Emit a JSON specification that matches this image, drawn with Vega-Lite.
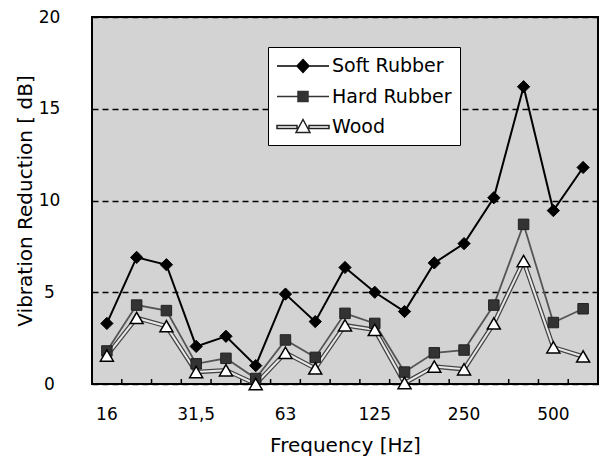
{
  "$schema": "https://vega.github.io/schema/vega-lite/v6.json",
  "width": 506,
  "height": 367,
  "autosize": "none",
  "padding": {"left": 92, "top": 17, "right": 1, "bottom": 77},
  "background": "white",
  "config": {
    "font": "DejaVu Sans",
    "view": {"fill": "#d3d3d3", "stroke": "black", "strokeWidth": 2},
    "axis": {"labelFont": "DejaVu Sans", "titleFont": "DejaVu Sans", "labelColor": "black", "titleColor": "black", "titleFontWeight": "normal", "labelFontSize": 17, "titleFontSize": 20, "domain": false}
  },
  "data": {"values": [
    {"series": "Soft Rubber", "freq": "16", "value": 3.3},
    {"series": "Soft Rubber", "freq": "20", "value": 6.9},
    {"series": "Soft Rubber", "freq": "25", "value": 6.5},
    {"series": "Soft Rubber", "freq": "31.5", "value": 2.05},
    {"series": "Soft Rubber", "freq": "40", "value": 2.6},
    {"series": "Soft Rubber", "freq": "50", "value": 1.0},
    {"series": "Soft Rubber", "freq": "63", "value": 4.9},
    {"series": "Soft Rubber", "freq": "80", "value": 3.4},
    {"series": "Soft Rubber", "freq": "100", "value": 6.35},
    {"series": "Soft Rubber", "freq": "125", "value": 5.0},
    {"series": "Soft Rubber", "freq": "160", "value": 3.95},
    {"series": "Soft Rubber", "freq": "200", "value": 6.6},
    {"series": "Soft Rubber", "freq": "250", "value": 7.65},
    {"series": "Soft Rubber", "freq": "315", "value": 10.15},
    {"series": "Soft Rubber", "freq": "400", "value": 16.2},
    {"series": "Soft Rubber", "freq": "500", "value": 9.45},
    {"series": "Soft Rubber", "freq": "630", "value": 11.8},
    {"series": "Hard Rubber", "freq": "16", "value": 1.8},
    {"series": "Hard Rubber", "freq": "20", "value": 4.3},
    {"series": "Hard Rubber", "freq": "25", "value": 4.0},
    {"series": "Hard Rubber", "freq": "31.5", "value": 1.1},
    {"series": "Hard Rubber", "freq": "40", "value": 1.4},
    {"series": "Hard Rubber", "freq": "50", "value": 0.3},
    {"series": "Hard Rubber", "freq": "63", "value": 2.4},
    {"series": "Hard Rubber", "freq": "80", "value": 1.45},
    {"series": "Hard Rubber", "freq": "100", "value": 3.85},
    {"series": "Hard Rubber", "freq": "125", "value": 3.3},
    {"series": "Hard Rubber", "freq": "160", "value": 0.65},
    {"series": "Hard Rubber", "freq": "200", "value": 1.7},
    {"series": "Hard Rubber", "freq": "250", "value": 1.85},
    {"series": "Hard Rubber", "freq": "315", "value": 4.3},
    {"series": "Hard Rubber", "freq": "400", "value": 8.7},
    {"series": "Hard Rubber", "freq": "500", "value": 3.35},
    {"series": "Hard Rubber", "freq": "630", "value": 4.1},
    {"series": "Wood", "freq": "16", "value": 1.55},
    {"series": "Wood", "freq": "20", "value": 3.6},
    {"series": "Wood", "freq": "25", "value": 3.15},
    {"series": "Wood", "freq": "31.5", "value": 0.65},
    {"series": "Wood", "freq": "40", "value": 0.75},
    {"series": "Wood", "freq": "50", "value": 0.0},
    {"series": "Wood", "freq": "63", "value": 1.7},
    {"series": "Wood", "freq": "80", "value": 0.85},
    {"series": "Wood", "freq": "100", "value": 3.2},
    {"series": "Wood", "freq": "125", "value": 2.95},
    {"series": "Wood", "freq": "160", "value": 0.05},
    {"series": "Wood", "freq": "200", "value": 0.95},
    {"series": "Wood", "freq": "250", "value": 0.8},
    {"series": "Wood", "freq": "315", "value": 3.3},
    {"series": "Wood", "freq": "400", "value": 6.7},
    {"series": "Wood", "freq": "500", "value": 2.0},
    {"series": "Wood", "freq": "630", "value": 1.5}
  ]},
  "encoding": {
    "x": {
      "field": "freq", "type": "nominal",
      "scale": {"type": "band", "domain": ["16","20","25","31.5","40","50","63","80","100","125","160","200","250","315","400","500","630"], "paddingInner": 0, "paddingOuter": 0},
      "axis": {
        "title": "Frequency [Hz]", "labelAngle": 0, "ticks": false,
        "labelPadding": 22, "titlePadding": 13,
        "labelExpr": "datum.value == '31.5' ? '31,5' : ((datum.value == '16' || datum.value == '63' || datum.value == '125' || datum.value == '250' || datum.value == '500') ? datum.value : '')"
      }
    },
    "y": {
      "field": "value", "type": "quantitative",
      "scale": {"domain": [0, 20], "nice": false},
      "axis": {
        "title": "Vibration Reduction [ dB]", "values": [0, 5, 10, 15, 20],
        "grid": true, "gridColor": "black", "gridDash": [6, 4], "gridWidth": 1.5, "gridOpacity": 1,
        "ticks": false, "labelAlign": "center", "labelPadding": 43, "titlePadding": 3
      }
    }
  },
  "layer": [
    {"transform": [{"filter": "datum.series == 'Soft Rubber' && datum.freq != '16'"}], "mark": {"type": "rule", "stroke": "black", "strokeWidth": 1.5},
      "encoding": {"x": {"field": "freq", "type": "nominal", "bandPosition": 0}, "y": {"datum": 0}, "y2": {"datum": 0.27}}},
    {"transform": [{"filter": "datum.series == 'Wood'"}], "mark": {"type": "line", "stroke": "#444444", "strokeWidth": 4.5}, "encoding": {}},
    {"transform": [{"filter": "datum.series == 'Wood'"}], "mark": {"type": "line", "stroke": "#e8e8e8", "strokeWidth": 2}, "encoding": {}},
    {"transform": [{"filter": "datum.series == 'Hard Rubber'"}], "mark": {"type": "line", "stroke": "#555555", "strokeWidth": 1.8}, "encoding": {}},
    {"transform": [{"filter": "datum.series == 'Soft Rubber'"}], "mark": {"type": "line", "stroke": "black", "strokeWidth": 2}, "encoding": {}},
    {"transform": [{"filter": "datum.series == 'Soft Rubber'"}], "mark": {"type": "point", "shape": "diamond", "filled": true, "fill": "black", "stroke": "black", "strokeWidth": 1, "size": 150, "opacity": 1}, "encoding": {}},
    {"transform": [{"filter": "datum.series == 'Hard Rubber'"}], "mark": {"type": "point", "shape": "square", "filled": true, "fill": "#333333", "stroke": "#222222", "strokeWidth": 1, "size": 110, "opacity": 1}, "encoding": {}},
    {"transform": [{"filter": "datum.series == 'Wood'"}], "mark": {"type": "point", "shape": "triangle-up", "filled": true, "fill": "white", "stroke": "black", "strokeWidth": 1.5, "size": 170, "opacity": 1}, "encoding": {}},
    {
      "mark": {"type": "point", "filled": true, "opacity": 0},
      "encoding": {
        "shape": {"field": "series", "type": "nominal",
          "scale": {"domain": ["Soft Rubber", "Hard Rubber", "Wood"], "range": [
            "M-1,0H4.2M1.6,-0.65L2.2,0L1.6,0.65L1.0,0Z",
            "M-1,0H4.2M1.1,-0.5H2.1V0.5H1.1Z",
            "M-1,-0.15H1.0V0.15H-1ZM2.2,-0.15H4.2V0.15H2.2ZM1.6,-0.75L2.3,0.55H0.9Z"
          ]},
          "legend": {
            "title": null, "orient": "none", "legendX": 176, "legendY": 30,
            "fillColor": "white", "strokeColor": "black", "padding": 8,
            "labelFontSize": 19, "labelColor": "black", "labelOffset": 34, "rowPadding": 9.5,
            "symbolSize": 400, "symbolOpacity": 1, "symbolStrokeWidth": 1.5
          }
        },
        "fill": {"field": "series", "type": "nominal", "scale": {"domain": ["Soft Rubber", "Hard Rubber", "Wood"], "range": ["black", "#333333", "white"]}},
        "stroke": {"field": "series", "type": "nominal", "scale": {"domain": ["Soft Rubber", "Hard Rubber", "Wood"], "range": ["black", "#333333", "#222222"]}}
      }
    }
  ]
}
